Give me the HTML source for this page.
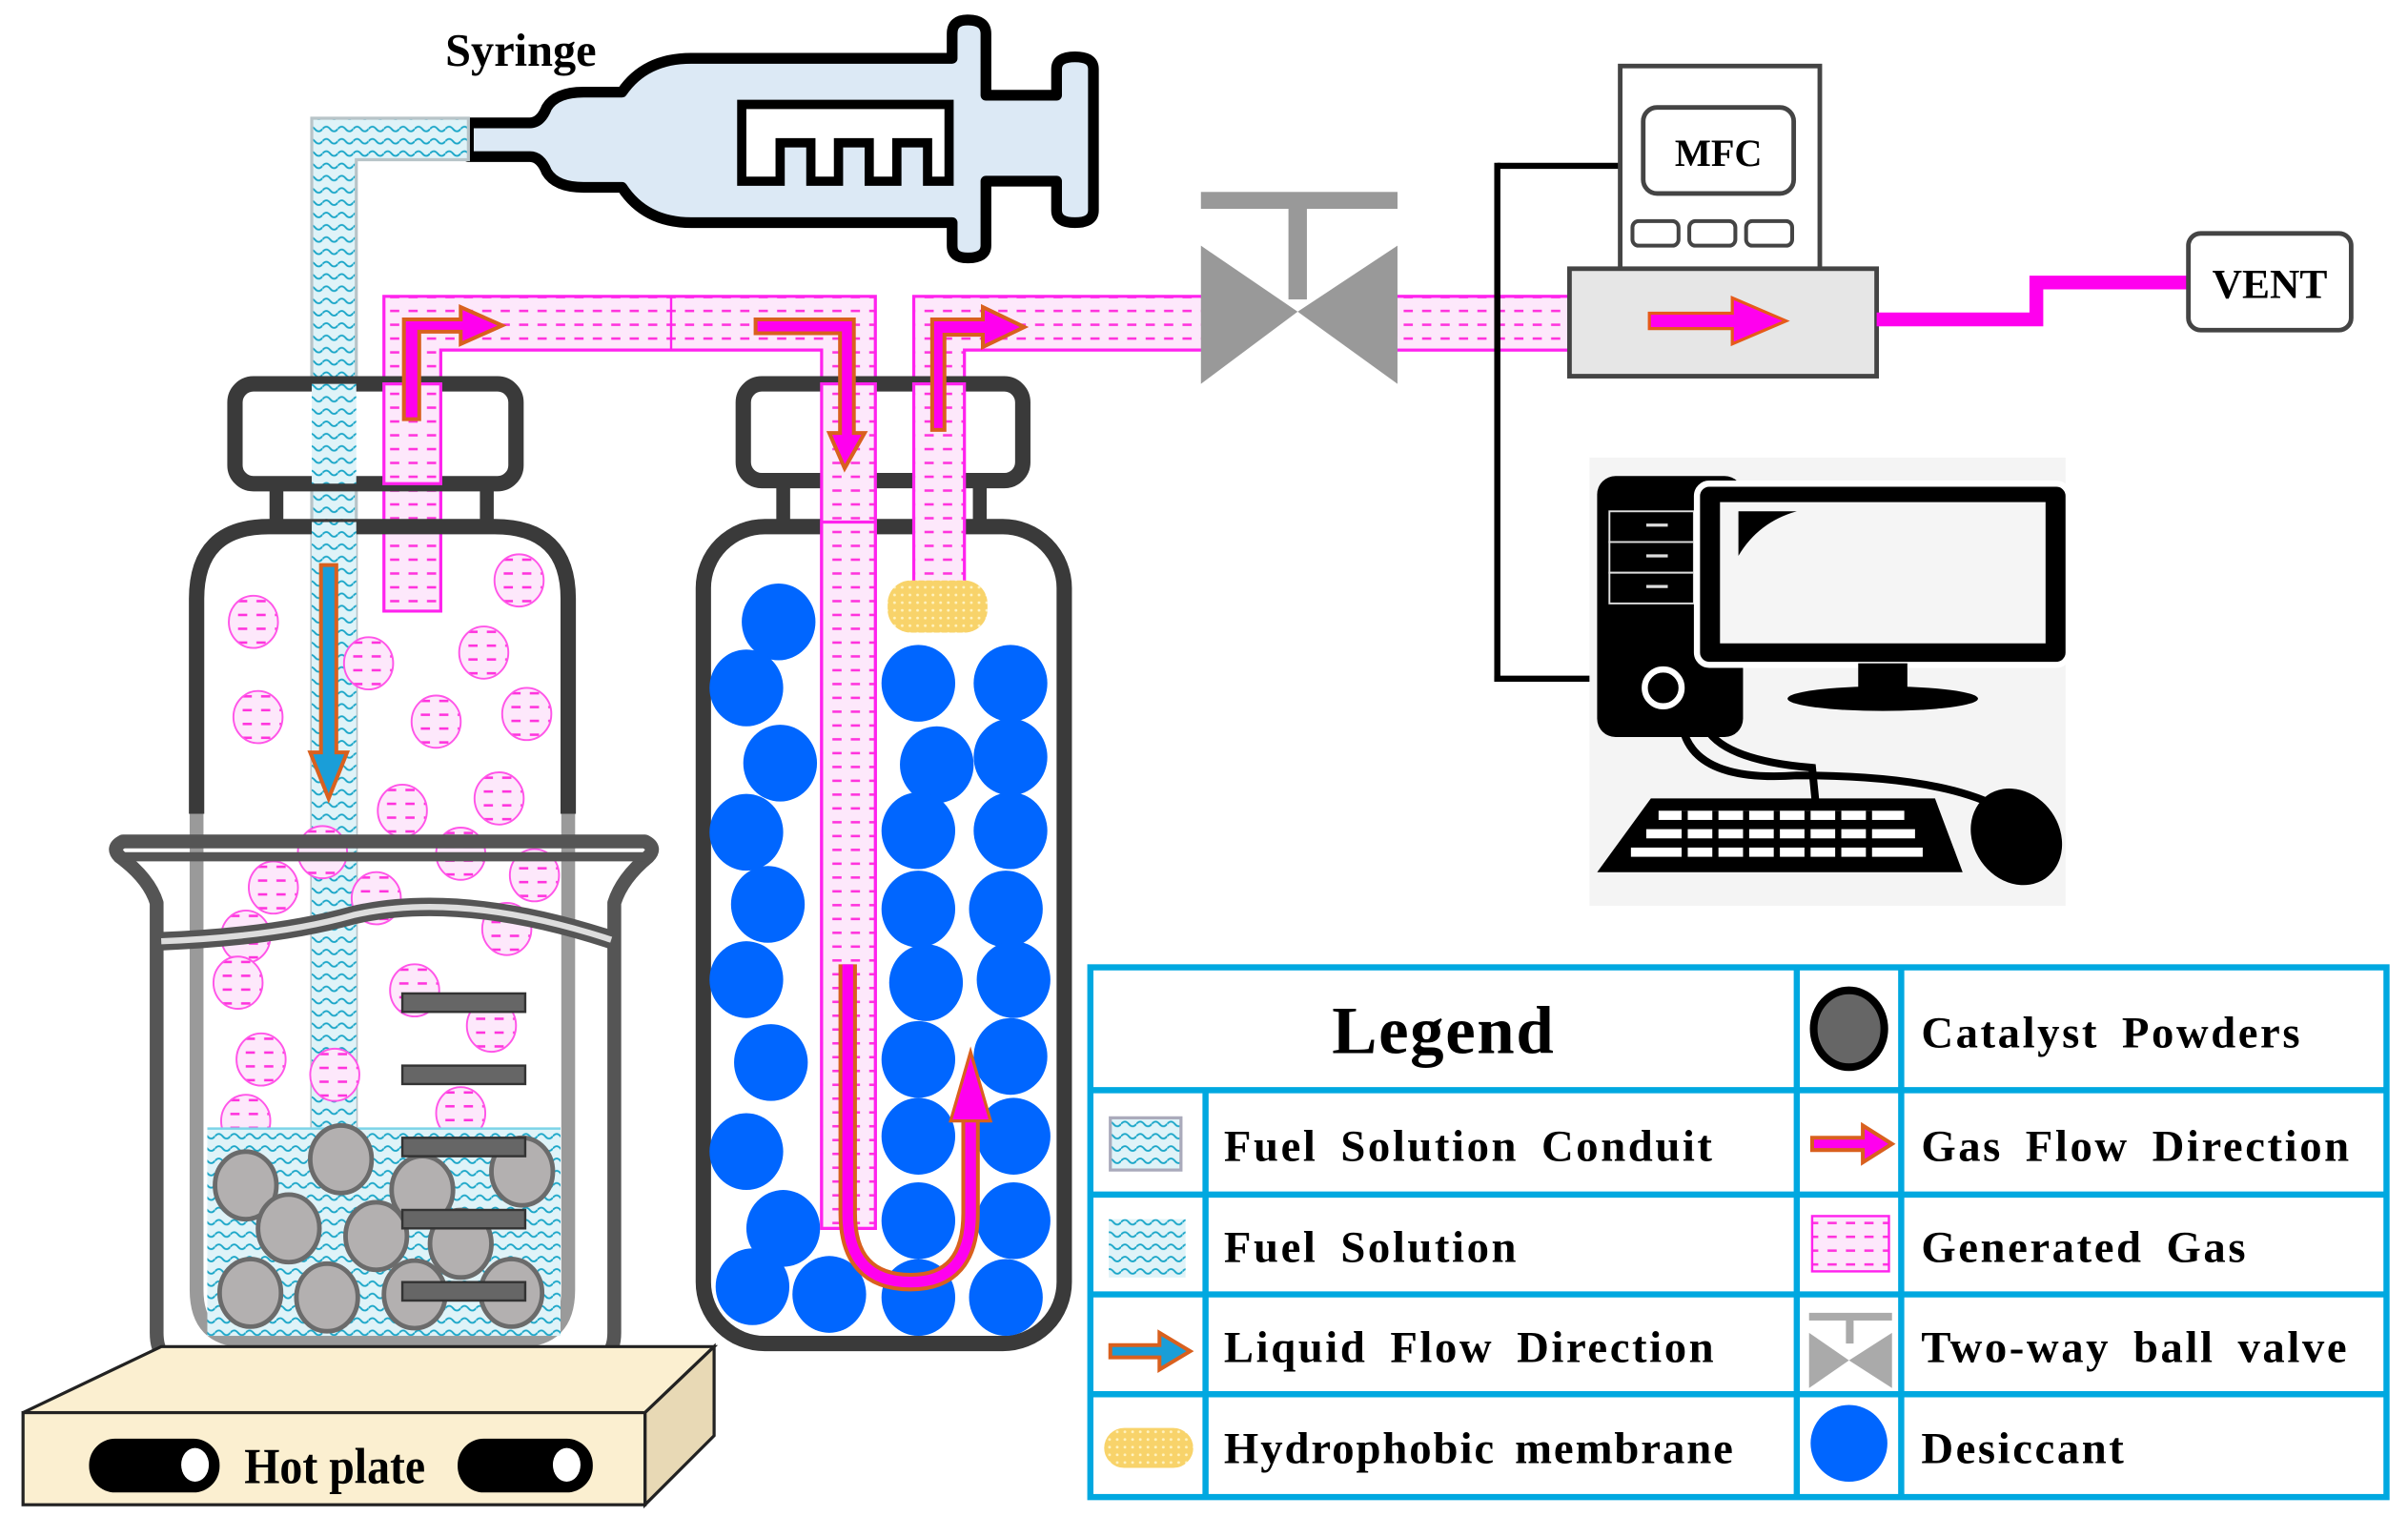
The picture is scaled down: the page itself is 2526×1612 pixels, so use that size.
<!DOCTYPE html>
<html><head><meta charset="utf-8"><style>
html,body{margin:0;padding:0;background:#fff;}
svg{display:block;}
text{font-family:"Liberation Serif",serif;font-weight:bold;fill:#000;}
</style></head><body>
<svg width="2526" height="1612" viewBox="0 0 1568 1001" preserveAspectRatio="none" xmlns="http://www.w3.org/2000/svg">
<defs>
<pattern id="wave" width="10" height="8" patternUnits="userSpaceOnUse">
<rect width="10" height="8" fill="#dff3f8"/>
<path d="M0 4 Q2.5 1 5 4 T10 4" fill="none" stroke="#1aa6c8" stroke-width="1.2"/>
</pattern>
<pattern id="gas" width="12" height="9" patternUnits="userSpaceOnUse">
<rect width="12" height="9" fill="#fde8fb"/>
<line x1="2" y1="4.5" x2="8" y2="4.5" stroke="#ff33dd" stroke-width="1.6"/>
</pattern>
<pattern id="dots" width="5" height="5" patternUnits="userSpaceOnUse">
<rect width="5" height="5" fill="#f8d36a"/><circle cx="2.5" cy="2.5" r="0.9" fill="#fff3c0"/>
</pattern>
<g id="bub"><ellipse cx="0" cy="0" rx="16" ry="17" fill="url(#gas)" stroke="#ff55e8" stroke-width="1.2"/></g>
</defs>

<!-- Syringe -->
<text x="290" y="43" font-size="30">Syringe</text>
<path d="M305 80 L345 80 Q352 80 356 70 Q362 60 380 60 L405 60 Q420 38 450 38 L620 38 L620 22 Q620 13 630 13 Q642 13 642 22 L642 62 L688 62 L688 45 Q688 37 700 37 Q712 37 712 45 L712 137 Q712 145 700 145 Q688 145 688 137 L688 118 L642 118 L642 160 Q642 168 630 168 Q620 168 620 160 L620 145 L450 145 Q420 145 405 122 L380 122 Q362 122 356 112 Q352 102 345 102 L305 102 Z" fill="#dce9f5" stroke="#000" stroke-width="7" stroke-linejoin="round"/>
<path d="M483 68 L618 68 L618 118 L604 118 L604 93 L584 93 L584 118 L566 118 L566 93 L546 93 L546 118 L528 118 L528 93 L508 93 L508 118 L483 118 Z" fill="#fff" stroke="#000" stroke-width="6"/>

<!-- Blue conduit -->
<path d="M203 77 L305 77 L305 104 L232 104 L232 740 L203 740 Z" fill="url(#wave)" stroke="#b8c4c8" stroke-width="2"/>

<!-- Gas pipes -->
<path d="M250 193 L570 193 L570 800 L535 800 L535 228 L287 228 L287 398 L250 398 Z" fill="url(#gas)" stroke="#ff22ee" stroke-width="2"/>
<line x1="437" y1="193" x2="437" y2="228" stroke="#ff22ee" stroke-width="1.5"/>
<path d="M595 193 L785 193 L785 228 L628 228 L628 380 L595 380 Z" fill="url(#gas)" stroke="#ff22ee" stroke-width="2"/>
<rect x="900" y="193" width="122" height="35" fill="url(#gas)" stroke="#ff22ee" stroke-width="2"/>

<!-- Valve -->
<rect x="782" y="125" width="128" height="11" fill="#999"/>
<rect x="839" y="135" width="12" height="60" fill="#999"/>
<polygon points="782,160 845,203 782,250" fill="#999"/>
<polygon points="910,160 845,203 910,250" fill="#999"/>

<!-- MFC -->
<line x1="1058" y1="108" x2="975" y2="108" stroke="#000" stroke-width="4"/>
<line x1="975" y1="106" x2="975" y2="444" stroke="#000" stroke-width="4"/>
<line x1="973" y1="442" x2="1040" y2="442" stroke="#000" stroke-width="4"/>
<rect x="1055" y="43" width="130" height="135" fill="#fff" stroke="#444" stroke-width="3"/>
<rect x="1070" y="70" width="98" height="56" rx="9" fill="#fff" stroke="#444" stroke-width="3"/>
<text x="1119" y="108" font-size="25" text-anchor="middle">MFC</text>
<rect x="1063" y="144" width="30" height="16" rx="4" fill="#fff" stroke="#444" stroke-width="2.5"/>
<rect x="1100" y="144" width="30" height="16" rx="4" fill="#fff" stroke="#444" stroke-width="2.5"/>
<rect x="1137" y="144" width="30" height="16" rx="4" fill="#fff" stroke="#444" stroke-width="2.5"/>
<rect x="1022" y="175" width="200" height="70" fill="#e6e6e6" stroke="#444" stroke-width="3"/>
<polygon points="1074,204 1128,204 1128,194 1163,209 1128,224 1128,214 1074,214" fill="#ff00ee" stroke="#e65a1a" stroke-width="2"/>
<polyline points="1222,208 1326,208 1326,184 1426,184" fill="none" stroke="#ff00ee" stroke-width="9"/>
<rect x="1425" y="152" width="106" height="63" rx="8" fill="#fff" stroke="#444" stroke-width="3"/>
<text x="1478" y="194" font-size="27" text-anchor="middle">VENT</text>

<!-- Computer -->
<rect x="1035" y="298" width="310" height="292" fill="#f4f4f4"/>
<rect x="1040" y="310" width="95" height="170" rx="12" fill="#000"/>
<rect x="1048" y="333" width="55" height="20" fill="#000" stroke="#ddd" stroke-width="1.2"/>
<rect x="1048" y="353" width="55" height="20" fill="#000" stroke="#ddd" stroke-width="1.2"/>
<rect x="1048" y="373" width="55" height="20" fill="#000" stroke="#ddd" stroke-width="1.2"/>
<line x1="1072" y1="342" x2="1086" y2="342" stroke="#ddd" stroke-width="2"/>
<line x1="1072" y1="362" x2="1086" y2="362" stroke="#ddd" stroke-width="2"/>
<line x1="1072" y1="382" x2="1086" y2="382" stroke="#ddd" stroke-width="2"/>
<circle cx="1083" cy="448" r="12" fill="#000" stroke="#fff" stroke-width="4"/>
<rect x="1105" y="315" width="242" height="118" rx="8" fill="#000" stroke="#fff" stroke-width="4"/>
<rect x="1120" y="327" width="212" height="92" fill="#f5f5f5"/>
<path d="M1132 333 L1170 333 Q1145 340 1132 362 Z" fill="#000"/>
<rect x="1210" y="432" width="32" height="20" fill="#000"/>
<ellipse cx="1226" cy="455" rx="62" ry="8" fill="#000"/>
<path d="M1095 470 Q1100 510 1170 505 Q1260 505 1300 525" fill="none" stroke="#000" stroke-width="5"/>
<path d="M1110 472 Q1120 495 1180 500 L1185 550" fill="none" stroke="#000" stroke-width="5"/>
<polygon points="1075,520 1260,520 1278,568 1040,568" fill="#000"/>
<g fill="#fff">
<rect x="1080" y="528" width="160" height="6"/><rect x="1072" y="540" width="175" height="6"/><rect x="1062" y="552" width="190" height="6"/>
</g>
<g fill="#000">
<rect x="1095" y="528" width="4" height="32"/><rect x="1115" y="528" width="4" height="32"/><rect x="1135" y="528" width="4" height="32"/><rect x="1155" y="528" width="4" height="32"/><rect x="1175" y="528" width="4" height="32"/><rect x="1195" y="528" width="4" height="32"/><rect x="1215" y="528" width="4" height="32"/>
</g>
<ellipse cx="1313" cy="545" rx="28" ry="33" transform="rotate(-35 1313 545)" fill="#000"/>

<!-- Left bottle -->
<path d="M128 530 L128 390 Q128 343 175 343 L322 343 Q370 343 370 390 L370 530" fill="none" stroke="#3a3a3a" stroke-width="10"/>
<rect x="180" y="315" width="137" height="28" fill="none" stroke="#3a3a3a" stroke-width="9"/>
<rect x="153" y="250" width="183" height="65" rx="12" fill="#fff" stroke="#3a3a3a" stroke-width="10"/>
<path d="M203 250 L232 250 L232 315 L203 315 Z" fill="url(#wave)"/>
<path d="M250 250 L287 250 L287 315 L250 315 Z" fill="url(#gas)" stroke="#ff22ee" stroke-width="2"/>
<path d="M203 340 L232 340 L232 740 L203 740 Z" fill="url(#wave)"/>
<g>
<use href="#bub" x="165" y="405"/><use href="#bub" x="338" y="378"/><use href="#bub" x="240" y="432"/><use href="#bub" x="315" y="425"/>
<use href="#bub" x="168" y="467"/><use href="#bub" x="284" y="470"/><use href="#bub" x="343" y="465"/><use href="#bub" x="262" y="528"/><use href="#bub" x="325" y="520"/>
<use href="#bub" x="210" y="555"/><use href="#bub" x="300" y="556"/><use href="#bub" x="348" y="570"/><use href="#bub" x="178" y="578"/><use href="#bub" x="245" y="585"/>
<use href="#bub" x="160" y="610"/><use href="#bub" x="330" y="605"/><use href="#bub" x="155" y="640"/><use href="#bub" x="270" y="645"/>
<use href="#bub" x="320" y="668"/><use href="#bub" x="170" y="690"/><use href="#bub" x="218" y="700"/><use href="#bub" x="160" y="730"/><use href="#bub" x="300" y="725"/>
</g>
<path d="M128 530 L128 840 Q128 873 160 873 L338 873 Q370 873 370 840 L370 530" fill="none" stroke="#9a9a9a" stroke-width="9"/>
<rect x="135" y="735" width="230" height="135" fill="url(#wave)"/>
<line x1="135" y1="735" x2="365" y2="735" stroke="#7dd4e8" stroke-width="1.5"/>
<g fill="#b3b0b0" stroke="#6b6b6b" stroke-width="3">
<ellipse cx="160" cy="772" rx="20" ry="22"/><ellipse cx="222" cy="755" rx="20" ry="22"/><ellipse cx="275" cy="775" rx="20" ry="22"/><ellipse cx="340" cy="763" rx="20" ry="22"/>
<ellipse cx="188" cy="800" rx="20" ry="22"/><ellipse cx="245" cy="805" rx="20" ry="22"/><ellipse cx="300" cy="810" rx="20" ry="22"/>
<ellipse cx="163" cy="842" rx="20" ry="22"/><ellipse cx="213" cy="845" rx="20" ry="22"/><ellipse cx="270" cy="843" rx="20" ry="22"/><ellipse cx="333" cy="842" rx="20" ry="22"/>
</g>
<g fill="#666" stroke="#333" stroke-width="1.5">
<rect x="262" y="647" width="80" height="12"/><rect x="262" y="694" width="80" height="12"/><rect x="262" y="741" width="80" height="12"/><rect x="262" y="788" width="80" height="12"/><rect x="262" y="835" width="80" height="12"/>
</g>
<!-- liquid arrow -->
<polygon points="209,368 219,368 219,490 226,490 214,520 202,490 209,490" fill="#1a9ed8" stroke="#d9601e" stroke-width="2.5"/>

<!-- Beaker -->
<path d="M80 548 L420 548 Q428 552 422 558 Q405 572 400 588 L400 868 Q400 888 380 888 L120 888 Q102 888 102 868 L102 588 Q97 572 78 558 Q72 552 80 548 Z" fill="none" stroke="#555" stroke-width="9" stroke-linejoin="round"/>
<path d="M80 558 L420 558" stroke="#555" stroke-width="6"/>
<path d="M105 613 Q180 610 230 596 Q300 580 398 612" fill="none" stroke="#555" stroke-width="12"/>
<path d="M105 613 Q180 610 230 596 Q300 580 398 612" fill="none" stroke="#fff" stroke-width="4" opacity="0.8"/>

<!-- Hot plate -->
<polygon points="15,920 105,877 465,877 420,920" fill="#fbefd0" stroke="#222" stroke-width="2"/>
<polygon points="420,920 465,877 465,935 420,980" fill="#e8d9b5" stroke="#222" stroke-width="2"/>
<rect x="15" y="920" width="405" height="60" fill="#fbefd0" stroke="#222" stroke-width="2"/>
<rect x="58" y="937" width="85" height="35" rx="17" fill="#000"/><ellipse cx="127" cy="954" rx="9" ry="11" fill="#fff"/>
<rect x="298" y="937" width="88" height="35" rx="17" fill="#000"/><ellipse cx="369" cy="954" rx="9" ry="11" fill="#fff"/>
<text x="218" y="966" font-size="33" text-anchor="middle" transform="translate(218 0) scale(0.9 1) translate(-218 0)">Hot plate</text>

<!-- Right bottle -->
<rect x="458" y="343" width="235" height="532" rx="40" fill="#fff" stroke="#3a3a3a" stroke-width="10"/>
<rect x="510" y="313" width="128" height="30" fill="none" stroke="#3a3a3a" stroke-width="9"/>
<rect x="484" y="250" width="182" height="63" rx="12" fill="#fff" stroke="#3a3a3a" stroke-width="10"/>
<rect x="535" y="250" width="35" height="550" fill="url(#gas)" stroke="#ff22ee" stroke-width="2"/>
<rect x="595" y="250" width="33" height="130" fill="url(#gas)" stroke="#ff22ee" stroke-width="2"/>
<rect x="578" y="378" width="65" height="34" rx="15" fill="url(#dots)"/>
<g fill="#0066ff">
<ellipse cx="507" cy="405" rx="24" ry="25"/><ellipse cx="486" cy="448" rx="24" ry="25"/><ellipse cx="508" cy="497" rx="24" ry="25"/><ellipse cx="486" cy="542" rx="24" ry="25"/>
<ellipse cx="500" cy="589" rx="24" ry="25"/><ellipse cx="486" cy="638" rx="24" ry="25"/><ellipse cx="502" cy="692" rx="24" ry="25"/><ellipse cx="486" cy="750" rx="24" ry="25"/>
<ellipse cx="510" cy="800" rx="24" ry="25"/><ellipse cx="490" cy="838" rx="24" ry="25"/><ellipse cx="540" cy="843" rx="24" ry="25"/>
<ellipse cx="598" cy="445" rx="24" ry="25"/><ellipse cx="658" cy="445" rx="24" ry="25"/><ellipse cx="610" cy="498" rx="24" ry="25"/><ellipse cx="658" cy="493" rx="24" ry="25"/>
<ellipse cx="598" cy="541" rx="24" ry="25"/><ellipse cx="658" cy="541" rx="24" ry="25"/><ellipse cx="598" cy="592" rx="24" ry="25"/><ellipse cx="655" cy="592" rx="24" ry="25"/>
<ellipse cx="603" cy="640" rx="24" ry="25"/><ellipse cx="660" cy="638" rx="24" ry="25"/><ellipse cx="598" cy="690" rx="24" ry="25"/><ellipse cx="658" cy="688" rx="24" ry="25"/>
<ellipse cx="598" cy="740" rx="24" ry="25"/><ellipse cx="660" cy="740" rx="24" ry="25"/><ellipse cx="598" cy="795" rx="24" ry="25"/><ellipse cx="660" cy="795" rx="24" ry="25"/>
<ellipse cx="598" cy="845" rx="24" ry="25"/><ellipse cx="655" cy="845" rx="24" ry="25"/>
</g>
<rect x="535" y="340" width="35" height="460" fill="url(#gas)" stroke="#ff22ee" stroke-width="2"/>
<path d="M552 628 L552 790 Q552 835 593 835 Q632 835 632 790 L632 725" fill="none" stroke="#d9601e" stroke-width="12"/>
<path d="M552 628 L552 790 Q552 835 593 835 Q632 835 632 790 L632 725" fill="none" stroke="#ff00ee" stroke-width="7"/>
<polygon points="632,685 619,730 645,730" fill="#ff00ee" stroke="#d9601e" stroke-width="2"/>

<!-- Gas arrows top -->
<path d="M263 273 L263 208 L300 208 L300 200 L327 212 L300 224 L300 216 L273 216 L273 273 Z" fill="#ff00ee" stroke="#d9601e" stroke-width="2.5"/>
<path d="M492 208 L556 208 L556 282 L563 282 L550 305 L540 282 L547 282 L547 217 L492 217 Z" fill="#ff00ee" stroke="#d9601e" stroke-width="2.5"/>
<path d="M607 280 L607 208 L640 208 L640 200 L667 213 L640 226 L640 218 L615 218 L615 280 Z" fill="#ff00ee" stroke="#d9601e" stroke-width="2.5"/>

<!-- Legend -->
<g fill="none" stroke="#00a8e0" stroke-width="4">
<rect x="710" y="630" width="844" height="345"/>
<line x1="710" y1="710" x2="1554" y2="710"/><line x1="710" y1="778" x2="1554" y2="778"/><line x1="710" y1="843" x2="1554" y2="843"/><line x1="710" y1="908" x2="1554" y2="908"/>
<line x1="785" y1="710" x2="785" y2="975"/><line x1="1170" y1="630" x2="1170" y2="975"/><line x1="1238" y1="630" x2="1238" y2="975"/>
</g>
<text x="940" y="686" font-size="44" text-anchor="middle" letter-spacing="1">Legend</text>
<g font-size="29" letter-spacing="1.6" word-spacing="6">
<text x="797" y="756">Fuel Solution Conduit</text>
<text x="797" y="822">Fuel Solution</text>
<text x="797" y="887">Liquid Flow Direction</text>
<text x="797" y="953" letter-spacing="1.2" word-spacing="4">Hydrophobic membrane</text>
<text x="1251" y="682">Catalyst Powders</text>
<text x="1251" y="756">Gas Flow Direction</text>
<text x="1251" y="822">Generated Gas</text>
<text x="1251" y="887">Two-way ball valve</text>
<text x="1251" y="953">Desiccant</text>
</g>
<rect x="723" y="728" width="46" height="34" fill="url(#wave)" stroke="#aab" stroke-width="2"/>
<rect x="722" y="794" width="50" height="38" fill="url(#wave)"/>
<polygon points="723,876 755,876 755,868 775,880 755,892 755,884 723,884" fill="#1a9ed8" stroke="#d9601e" stroke-width="2.5"/>
<rect x="719" y="930" width="58" height="26" rx="13" fill="url(#dots)"/>
<ellipse cx="1204" cy="670" rx="23" ry="25" fill="#666" stroke="#000" stroke-width="5"/>
<polygon points="1180,741 1213,741 1213,733 1232,745 1213,757 1213,749 1180,749" fill="#ff00ee" stroke="#d9601e" stroke-width="2.5"/>
<rect x="1180" y="792" width="50" height="36" fill="url(#gas)" stroke="#ff22ee" stroke-width="1.5"/>
<rect x="1178" y="855" width="54" height="5" fill="#aaa"/><rect x="1202" y="858" width="5" height="17" fill="#aaa"/>
<polygon points="1178,868 1204,886 1178,904" fill="#aaa"/><polygon points="1232,868 1204,886 1232,904" fill="#aaa"/>
<ellipse cx="1204" cy="940" rx="25" ry="25" fill="#0066ff"/>
</svg>
</body></html>
